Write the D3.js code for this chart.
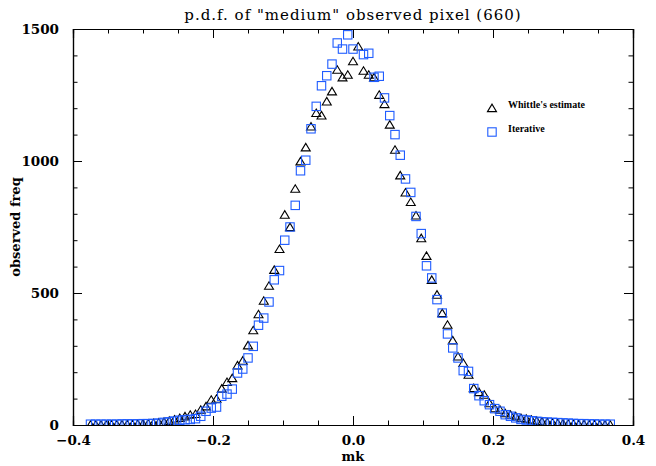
<!DOCTYPE html>
<html>
<head>
<meta charset="utf-8">
<script src="https://cdn.jsdelivr.net/npm/d3@7"></script>
<style>
  body { margin: 0; background: #fff; }
  text { font-family: "DejaVu Serif", "Liberation Serif", serif; }
</style>
</head>
<body>
<div id="playground"></div>
<script>

// bin centres (mk)
var mk = [-0.375, -0.3675, -0.36, -0.3525, -0.345, -0.3375, -0.33, -0.3225, -0.315, -0.3075,
  -0.3, -0.2925, -0.285, -0.2775, -0.27, -0.2625, -0.255, -0.2475, -0.24, -0.2325,
  -0.225, -0.2175, -0.21, -0.2025, -0.195, -0.1875, -0.18, -0.1725, -0.165, -0.1575,
  -0.15, -0.1425, -0.135, -0.1275, -0.12, -0.1125, -0.105, -0.0975, -0.09, -0.0825,
  -0.075, -0.0675, -0.06, -0.0525, -0.045, -0.0375, -0.03, -0.0225, -0.015, -0.0075,
  0, 0.0075, 0.015, 0.0225, 0.03, 0.0375, 0.045, 0.0525, 0.06, 0.0675,
  0.075, 0.0825, 0.09, 0.0975, 0.105, 0.1125, 0.12, 0.1275, 0.135, 0.1425,
  0.15, 0.1575, 0.165, 0.1725, 0.18, 0.1875, 0.195, 0.2025, 0.21, 0.2175,
  0.225, 0.2325, 0.24, 0.2475, 0.255, 0.2625, 0.27, 0.2775, 0.285, 0.2925,
  0.3, 0.3075, 0.315, 0.3225, 0.33, 0.3375, 0.345, 0.3525, 0.36, 0.3675];

// Whittle's estimate (triangles)
var whittle = [1, 1, 1, 1, 2, 2, 2, 3, 3, 4,
  5, 6, 8, 10, 12, 16, 21, 27, 33, 39,
  42, 58, 71, 96, 100, 138, 163, 178, 226, 244,
  302, 359, 420, 471, 528, 588, 667, 797, 750, 895,
  999, 1052, 1131, 1182, 1173, 1226, 1264, 1346, 1317, 1327,
  1378, 1434, 1342, 1327, 1317, 1251, 1216, 1138, 1043, 946,
  881, 845, 794, 708, 641, 550, 494, 424, 380, 321,
  260, 235, 191, 140, 125, 115, 83, 64, 58, 45,
  39, 33, 27, 24, 20, 16, 13, 11, 9, 7,
  6, 5, 4, 3, 3, 2, 2, 1, 1, 1];

// Iterative (squares)
var iterative = [3, 3, 3, 3, 3, 3, 4, 4, 4, 4,
  5, 5, 6, 7, 10, 12, 15, 18, 20, 21,
  24, 33, 52, 64, 68, 109, 117, 136, 197, 212,
  254, 298, 378, 405, 466, 550, 585, 700, 750, 832,
  963, 1003, 1122, 1207, 1285, 1323, 1367, 1447, 1424, 1478,
  1424, 1530, 1403, 1408, 1317, 1321, 1239, 1172, 1100, 1022,
  932, 881, 790, 725, 603, 557, 475, 424, 345, 292,
  254, 206, 203, 138, 111, 92, 77, 62, 52, 39,
  33, 27, 21, 19, 16, 14, 12, 11, 10, 9,
  8, 7, 6, 5, 5, 4, 4, 3, 3, 3];

var xTicks = [-0.4, -0.2, 0.0, 0.2, 0.4];
var yTicks = [0, 500, 1000, 1500];
var legendNames = ["Whittle's estimate", "Iterative"];

var margin = {top: 29, right: 23, bottom: 41, left: 73},
  width = 656 - margin.left - margin.right,
  height = 466 - margin.top - margin.bottom;

var blue = "#1f5cff";

var svg = d3.select("#playground")
  .append("svg")
  .attr("width", 656)
  .attr("height", 466);

var g = svg.append("g")
  .attr("transform", "translate(" + margin.left + "," + margin.top + ")");

var x = d3.scaleLinear().domain([-0.4, 0.4]).range([0, width]);
var y = d3.scaleLinear().domain([0, 1500]).range([height, 0]);

var minorX = d3.range(-0.4, 0.4001, 0.05);
var minorY = d3.range(0, 1501, 100);

function fmtX(d) { return d === 0 ? "0.0" : d3.format(".1f")(d).replace("-", "\u2212"); }

// bottom axis with labels, top axis just ticks
g.append("g")
  .attr("transform", "translate(0," + height + ")")
  .call(d3.axisBottom(x).tickValues(minorX).tickSize(-4.5).tickFormat(""));
g.append("g")
  .attr("class", "xlab")
  .attr("transform", "translate(0," + height + ")")
  .call(d3.axisBottom(x).tickValues(xTicks).tickSize(-9).tickPadding(20).tickFormat(fmtX));
g.append("g")
  .call(d3.axisTop(x).tickValues(minorX).tickSize(-4.5).tickFormat(""));
g.append("g")
  .call(d3.axisTop(x).tickValues(xTicks).tickSize(-9).tickFormat(""));

g.append("g")
  .call(d3.axisLeft(y).tickValues(minorY).tickSize(-4.5).tickFormat(""));
g.append("g")
  .attr("class", "ylab")
  .call(d3.axisLeft(y).tickValues(yTicks).tickSize(-9).tickPadding(14).tickFormat(d3.format("d")));
g.append("g")
  .attr("transform", "translate(" + width + ",0)")
  .call(d3.axisRight(y).tickValues(minorY).tickSize(-4.5).tickFormat(""));
g.append("g")
  .attr("transform", "translate(" + width + ",0)")
  .call(d3.axisRight(y).tickValues(yTicks).tickSize(-9).tickFormat(""));

g.selectAll(".domain").attr("stroke", "#000").attr("stroke-width", 1.2);
g.selectAll(".tick line").attr("stroke", "#000").attr("stroke-width", 1);
g.selectAll(".tick text")
  .attr("fill", "#000")
  .style("font-size", "13.5px")
  .style("font-weight", "bold")
  .style("font-family", "DejaVu Serif");
g.selectAll(".xlab .tick text").attr("dy", "0");
g.selectAll(".ylab .tick text").attr("dy", "0.35em");

// clip the markers to the frame like the original
svg.append("clipPath").attr("id", "frame")
  .append("rect").attr("width", width).attr("height", height);

var marks = g.append("g").attr("clip-path", "url(#frame)");

var tri = "M-4.5,3.6L0,-3.9L4.5,3.6Z";

marks.selectAll("path.whittle")
  .data(mk)
  .enter()
  .append("path")
  .attr("class", "whittle")
  .attr("d", tri)
  .attr("transform", (d, i) => "translate(" + x(d) + "," + y(whittle[i]) + ")")
  .attr("fill", "none")
  .attr("stroke", "#000")
  .attr("stroke-width", 1.1);

marks.selectAll("rect.iter")
  .data(mk)
  .enter()
  .append("rect")
  .attr("class", "iter")
  .attr("x", d => x(d) - 4.2)
  .attr("y", (d, i) => y(iterative[i]) - 4.2)
  .attr("width", 8.4)
  .attr("height", 8.4)
  .attr("fill", "none")
  .attr("stroke", blue)
  .attr("stroke-width", 1.1);

// title and axis titles
svg.append("text")
  .attr("x", margin.left + width / 2)
  .attr("y", 20)
  .attr("text-anchor", "middle")
  .style("font-size", "15px")
  .style("letter-spacing", "1px")
  .text("p.d.f. of \"medium\" observed pixel (660)");

svg.append("text")
  .attr("x", margin.left + width / 2)
  .attr("y", 461)
  .attr("text-anchor", "middle")
  .style("font-size", "13px")
  .style("font-weight", "bold")
  .text("mk");

svg.append("text")
  .attr("transform", "translate(20," + (margin.top + height / 2) + ") rotate(-90)")
  .attr("text-anchor", "middle")
  .style("font-size", "13px")
  .style("font-weight", "bold")
  .text("observed freq");

// legend
var leg = svg.append("g").attr("transform", "translate(492,108)");
leg.append("path")
  .attr("d", tri)
  .attr("fill", "none")
  .attr("stroke", "#000")
  .attr("stroke-width", 1.1);
leg.append("rect")
  .attr("x", -4.2).attr("y", 24 - 4.2)
  .attr("width", 8.4).attr("height", 8.4)
  .attr("fill", "none")
  .attr("stroke", blue)
  .attr("stroke-width", 1.1);
leg.selectAll("text")
  .data(legendNames)
  .enter()
  .append("text")
  .attr("x", 16)
  .attr("y", (d, i) => i * 24 + 0)
  .style("font-size", "10px")
  .style("font-weight", "bold")
  .style("font-family", "Liberation Serif")
  .text(d => d);

</script>
</body>
</html>
